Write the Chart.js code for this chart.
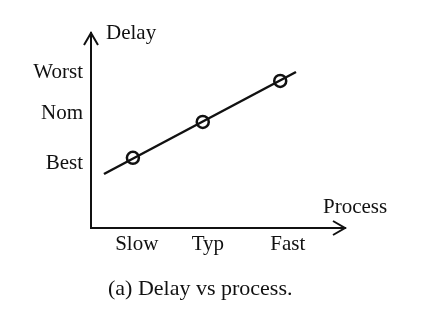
<!DOCTYPE html>
<html>
<head>
<meta charset="utf-8">
<script src="https://cdn.jsdelivr.net/npm/chart.js@4/dist/chart.umd.min.js"></script>
<style>
  html, body { margin: 0; padding: 0; background: #fff; }
  #wrap { width: 421px; height: 314px; }
</style>
</head>
<body>
<div id="wrap"><canvas id="c" width="421" height="314"></canvas></div>
<script>
// Process axis (arbitrary units, 0..10) and delay axis (arbitrary units, 0..10)
const xCategories = ['Slow', 'Typ', 'Fast'];
const xTickValues = [1.8, 4.6, 7.75];
const yCategories = ['Best', 'Nom', 'Worst'];
const yTickValues = [3.3, 5.85, 7.95];
// Measured corners (circles)
const pointX = [1.65, 4.4, 7.45];
const pointY = [3.6, 5.44, 7.54];
// Trend line end points
const lineX = [0.51, 8.07];
const lineY = [2.77, 8.0];

const FONT = "'Liberation Serif', 'Times New Roman', serif";
const INK = '#111';

const arrowsAndText = {
  id: 'arrowsAndText',
  afterDraw(chart) {
    const ctx = chart.ctx;
    const a = chart.chartArea;
    ctx.save();
    ctx.strokeStyle = INK;
    ctx.lineWidth = 2;
    ctx.lineJoin = 'miter';
    // y arrow
    ctx.beginPath();
    ctx.moveTo(a.left - 7, a.top + 12);
    ctx.lineTo(a.left, a.top);
    ctx.lineTo(a.left + 7, a.top + 12);
    ctx.stroke();
    // x arrow
    ctx.beginPath();
    ctx.moveTo(a.right - 12, a.bottom - 7);
    ctx.lineTo(a.right, a.bottom);
    ctx.lineTo(a.right - 12, a.bottom + 7);
    ctx.stroke();
    // texts
    ctx.fillStyle = INK;
    ctx.textBaseline = 'alphabetic';
    ctx.textAlign = 'left';
    ctx.font = '21px ' + FONT;
    ctx.fillText('Delay', a.left + 15, a.top + 6);
    ctx.fillText('Process', a.right - 22, a.bottom - 15);
    ctx.font = '22px ' + FONT;
    ctx.fillText('(a) Delay vs process.', a.left + 17, a.bottom + 67);
    ctx.restore();
  }
};

new Chart(document.getElementById('c'), {
  type: 'scatter',
  data: {
    datasets: [
      {
        data: lineX.map((x, i) => ({ x, y: lineY[i] })),
        showLine: true,
        borderColor: INK,
        borderWidth: 2.5,
        pointRadius: 0,
        fill: false
      },
      {
        data: pointX.map((x, i) => ({ x, y: pointY[i] })),
        showLine: false,
        pointRadius: 6,
        pointBorderWidth: 2.5,
        pointBorderColor: INK,
        pointBackgroundColor: 'rgba(255,255,255,0)'
      }
    ]
  },
  plugins: [arrowsAndText],
  options: {
    responsive: false,
    animation: false,
    devicePixelRatio: 1,
    layout: { padding: { left: 0, right: 76, top: 33, bottom: 0 } },
    plugins: { legend: { display: false }, tooltip: { enabled: false }, title: { display: false } },
    scales: {
      x: {
        type: 'linear',
        min: 0, max: 10,
        afterBuildTicks: s => { s.ticks = xTickValues.map(v => ({ value: v })); },
        afterFit: s => { s.height = 86; },
        grid: { display: false, drawTicks: false },
        border: { display: true, color: INK, width: 2 },
        ticks: {
          autoSkip: false,
          maxRotation: 0,
          padding: 4,
          color: INK,
          font: { family: FONT, size: 21 },
          callback: (v, i) => xCategories[i]
        }
      },
      y: {
        type: 'linear',
        min: 0, max: 10,
        afterBuildTicks: s => { s.ticks = yTickValues.map(v => ({ value: v })); },
        afterFit: s => { s.width = 91; },
        grid: { display: false, drawTicks: false },
        border: { display: true, color: INK, width: 2 },
        ticks: {
          autoSkip: false,
          padding: 8,
          color: INK,
          font: { family: FONT, size: 21 },
          callback: (v, i) => yCategories[i]
        }
      }
    }
  }
});
</script>
</body>
</html>
